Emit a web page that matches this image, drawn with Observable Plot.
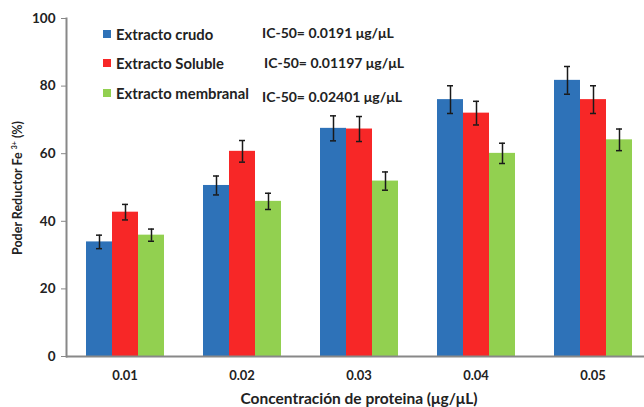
<!DOCTYPE html>
<html>
<head>
<meta charset="utf-8">
<script src="https://cdn.jsdelivr.net/npm/d3@7"></script>
<script src="https://cdn.jsdelivr.net/npm/@observablehq/plot@0.6"></script>
<style>
  html, body { margin: 0; padding: 0; background: #fff; }
  #wrap { position: relative; width: 644px; height: 407px; overflow: hidden; font-family: Lato, "Open Sans", sans-serif; font-weight: 700; color: #222; }
  .lg { position: absolute; font-size: 14px; line-height: 16px; white-space: nowrap; }
  .lg.name { font-size: 14.8px; }
  .sw { position: absolute; width: 8px; height: 8px; }
  #ytitle { position: absolute; left: 18px; top: 188px; transform: translate(-50%, -50%) rotate(-90deg); font-size: 12.5px; line-height: 14px; white-space: nowrap; }
  #ytitle sup { font-size: 7px; vertical-align: 5px; line-height: 0; }
  #xtitle { position: absolute; left: 359px; top: 398px; transform: translate(-50%, -50%); font-size: 15.5px; line-height: 16px; white-space: nowrap; }
</style>
</head>
<body>
<div id="wrap"></div>
<script>
const concentrations = ["0.01", "0.02", "0.03", "0.04", "0.05"];
const series = ["Extracto crudo", "Extracto Soluble", "Extracto membranal"];
const crudo = [33.9, 50.6, 67.5, 76.0, 81.7];
const soluble = [42.7, 60.7, 67.3, 72.0, 76.0];
const membranal = [35.9, 45.9, 51.9, 60.1, 64.1];
const crudoErr = [2.0, 2.8, 3.7, 4.1, 4.1];
const solubleErr = [2.3, 3.2, 3.7, 3.5, 4.1];
const membranalErr = [1.8, 2.4, 2.7, 3.0, 3.2];
const ic50 = ["IC-50= 0.0191 μg/μL", "IC-50= 0.01197 μg/μL", "IC-50= 0.02401 μg/μL"];
const colors = ["#2e72b8", "#f72727", "#92d050"];
const yTicks = [0, 20, 40, 60, 80, 100];
const xTitle = "Concentración de proteina (μg/μL)";

const values = [crudo, soluble, membranal];
const errs = [crudoErr, solubleErr, membranalErr];
const data = [];
concentrations.forEach((c, i) => {
  series.forEach((s, j) => {
    data.push({conc: c, series: s, value: values[j][i], err: errs[j][i]});
  });
});

const plot = Plot.plot({
  width: 644,
  height: 407,
  marginLeft: 66,
  marginRight: 0,
  marginTop: 18,
  marginBottom: 51,
  style: {fontFamily: "Lato, 'Open Sans', sans-serif", fontWeight: 700, fontSize: "13px", color: "#222", background: "transparent", overflow: "visible"},
  fx: {domain: concentrations, range: [66, 651], paddingInner: 0, paddingOuter: 0, label: null},
  x: {domain: series, paddingInner: 0, paddingOuter: 0.72, axis: null},
  y: {domain: [0, 100], axis: null},
  color: {domain: series, range: colors},
  marks: [
    Plot.barY(data, {fx: "conc", x: "series", y: "value", fill: "series"}),
    Plot.ruleX(data, {fx: "conc", x: "series", y1: d => d.value - d.err, y2: d => d.value + d.err, stroke: "#1a1a1a", strokeWidth: 1.5}),
    Plot.tickY(data, {fx: "conc", x: "series", y: d => d.value - d.err, insetLeft: 10, insetRight: 10, stroke: "#1a1a1a", strokeWidth: 1.5}),
    Plot.tickY(data, {fx: "conc", x: "series", y: d => d.value + d.err, insetLeft: 10, insetRight: 10, stroke: "#1a1a1a", strokeWidth: 1.5}),
    Plot.axisFx({anchor: "bottom", tickSize: 0, tickPadding: 14, fontSize: 13, label: null}),
    Plot.axisY(yTicks, {anchor: "left", tickSize: 5, tickPadding: 6, fontSize: 13.5, stroke: "#888", label: null}),
    Plot.frame({anchor: "left", facetAnchor: "left", stroke: "#888", strokeWidth: 2}),
    Plot.ruleY([0], {stroke: "#888", strokeWidth: 2})
  ]
});

const wrap = document.getElementById("wrap");
wrap.appendChild(plot);

const rowY = [34, 63, 93];
const icY = [33, 63, 97];
const icX = [262, 264, 262];
series.forEach((s, j) => {
  const sw = document.createElement("div");
  sw.className = "sw";
  sw.style.left = "103px";
  sw.style.top = (rowY[j] - 4) + "px";
  sw.style.background = colors[j];
  wrap.appendChild(sw);
  const t = document.createElement("div");
  t.className = "lg name";
  t.style.left = "116px";
  t.style.top = (rowY[j] - 8) + "px";
  t.textContent = s;
  wrap.appendChild(t);
  const ic = document.createElement("div");
  ic.className = "lg";
  ic.style.left = icX[j] + "px";
  ic.style.top = (icY[j] - 8) + "px";
  ic.textContent = ic50[j];
  wrap.appendChild(ic);
});

const xt = document.createElement("div");
xt.id = "xtitle";
xt.textContent = xTitle;
wrap.appendChild(xt);

const yt = document.createElement("div");
yt.id = "ytitle";
yt.innerHTML = "Poder Reductor Fe <sup>3+</sup> (%)";
wrap.appendChild(yt);
</script>
</body>
</html>
